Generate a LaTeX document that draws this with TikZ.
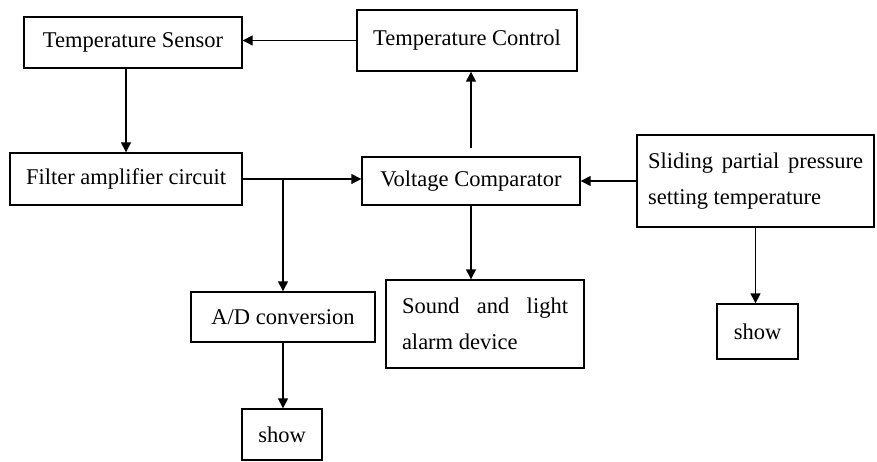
\documentclass[tikz,border=0pt]{standalone}
\usepackage{fontspec}
\setmainfont{Liberation Serif}
\usetikzlibrary{arrows.meta}
\begin{document}
\begin{tikzpicture}[x=1pt,y=-1pt,
  box/.style={draw, line width=1.4pt, inner sep=0pt, font=\fontsize{22.5}{36}\selectfont},
  parbox/.style={box, align=justify, inner ysep=0pt},
  arr/.style={line width=1.4pt, -{Triangle[length=10pt,width=10pt]}}]
\useasboundingbox (0,0) rectangle (877,462);
\node[box, minimum width=218pt, minimum height=51pt] (sensor) at (133,42.5) {Temperature Sensor};
\node[box, minimum width=220pt, minimum height=61pt] (control) at (467,40.5) {Temperature Control};
\node[box, minimum width=232pt, minimum height=52pt] (filter) at (126,179) {Filter amplifier circuit};
\node[box, minimum width=218pt, minimum height=48pt] (volt) at (471,181) {Voltage Comparator};
\node[box, minimum width=184pt, minimum height=50pt] (ad) at (283,317) {A/D conversion};
\node[box, minimum width=80pt, minimum height=51pt] (show1) at (282,434.5) {show};
\node[parbox, text width=166pt, inner xsep=16pt, minimum height=88pt] (sound) at (485,324) {Sound and light alarm device};
\node[parbox, text width=215pt, inner xsep=11pt, minimum height=92pt] (slide) at (755.5,181) {Sliding partial pressure setting temperature};
\node[box, minimum width=81pt, minimum height=55pt] (show2) at (757.5,331.5) {show};
\coordinate (j) at (283,179);
\draw[arr] (control.west) -- (sensor.east |- control.west);
\draw[arr] (sensor.south -| filter.north) -- (filter.north);
\draw[arr] (filter.east) -- (volt.west |- filter.east);
\draw[arr] (j) -- (ad.north);
\draw[arr] (ad.south) -- (ad.south |- show1.north);
\draw[arr, shorten <=8pt] (volt.north) -- (volt.north |- control.south);
\draw[arr] (volt.south) -- (volt.south |- sound.north);
\draw[arr] (slide.west) -- (volt.east |- slide.west);
\draw[arr] (slide.south) -- (slide.south |- show2.north);
\end{tikzpicture}
\end{document}
